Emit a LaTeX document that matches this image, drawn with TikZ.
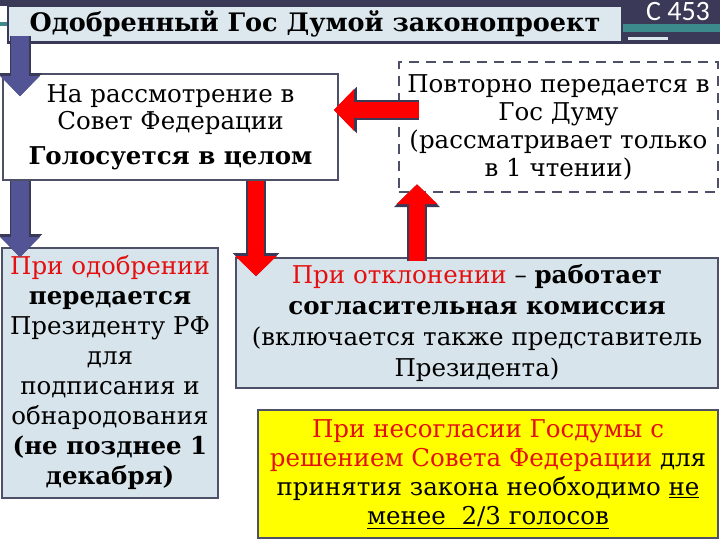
\documentclass[tikz,border=0pt]{standalone}
\usepackage{fontspec}
\setmainfont{DejaVu Serif}
\newfontfamily\slidefont{Carlito}
\usepackage{tikz}
\usetikzlibrary{arrows.meta,positioning,calc}
\usepackage{xcolor}
\definecolor{gdnavy}{RGB}{58,58,88}
\definecolor{gdedge}{RGB}{78,80,104}
\definecolor{gdteal}{RGB}{60,138,140}
\definecolor{gdlight}{RGB}{215,228,235}
\definecolor{gdtitle}{RGB}{220,232,238}
\definecolor{gdblue}{RGB}{82,84,150}
\definecolor{gdred}{RGB}{255,0,0}
\definecolor{gdtext}{RGB}{228,16,16}
\definecolor{gdyellow}{RGB}{255,255,0}
\tikzstyle{stagebox} = [rectangle, draw=gdedge, line width=1.6pt, align=center, inner sep=1pt, font=\fontsize{24.5}{30}\selectfont]
\tikzstyle{bluearrow} = [line width=18pt, color=gdblue, -{Triangle[width=38pt,length=20pt]}, preaction={draw=gdnavy, line width=21pt, -{Triangle[width=43pt,length=23pt]}}]
\tikzstyle{redarrow} = [line width=16pt, color=gdred, -{Triangle[width=40pt,length=20pt]}, preaction={draw=gdnavy, line width=20pt, -{Triangle[width=45pt,length=23pt]}}]
\newcommand{\rd}[1]{\textcolor{gdtext}{#1}}

\begin{document}
\begin{tikzpicture}[x=1pt, y=-1pt]
\useasboundingbox (0,0) rectangle (720,540);
% Slide header
\fill[gdnavy] (0,0) rectangle (720,6);
\fill[gdnavy] (620,0) rectangle (720,44);
\fill[gdteal] (620,24) rectangle (720,32);
\fill[gdtitle] (628,37) rectangle (668,40);
\fill[gdteal] (0,22) rectangle (8,26);
\node (title) [rectangle, draw=gdnavy, fill=gdtitle, line width=2.5pt, minimum width=614pt, minimum height=37pt, font=\fontsize{25.5}{30}\selectfont\bfseries] at (315,24) {Одобренный Гос Думой законопроект};
\node (page) [text=white, font=\slidefont\fontsize{28}{30}\selectfont] at (678,12) {С 453};

% Stages
\node (sovet) [stagebox, fill=white, minimum width=335pt, minimum height=106pt, font=\fontsize{24.5}{27}\selectfont] at (170.5,127) {На рассмотрение в\\Совет Федерации\\[8pt]\textbf{Голосуется в целом}};
\node (povtor) [stagebox, fill=white, dash pattern=on 10pt off 7pt, line width=2.5pt, minimum width=319pt, minimum height=130pt, font=\fontsize{24.5}{28}\selectfont] at (558.5,127) {Повторно передается в\\Гос Думу\\(рассматривает только\\в 1 чтении)};
\node (odobr) [stagebox, fill=gdlight, minimum width=216pt, minimum height=250pt] at (110,373) {\rd{При одобрении}\\\textbf{передается}\\Президенту РФ\\для\\подписания и\\обнародования\\\textbf{(не позднее 1}\\\textbf{декабря)}};
\node (otkl) [stagebox, fill=gdlight, minimum width=482pt, minimum height=130pt, font=\fontsize{24.5}{31}\selectfont] at (477,323) {\rd{При отклонении} -- \textbf{работает}\\\textbf{согласительная комиссия}\\(включается также представитель\\Президента)};
\node (nesogl) [stagebox, fill=gdyellow, minimum width=460pt, minimum height=128pt, font=\fontsize{24.5}{29}\selectfont] at (488,474) {\rd{При несогласии Госдумы с}\\\rd{решением Совета Федерации} для\\принятия закона необходимо \underline{не}\\\underline{менее~~2/3 голосов}};

% Connections
\coordinate (lft) at (20,0);
\coordinate (rdn) at (256,0);
\coordinate (rup) at (417,0);
\coordinate (rlf) at (0,110);
\draw[bluearrow] ([yshift=8pt]title.south -| lft) -- ([yshift=-23pt]sovet.north -| lft);
\draw[bluearrow] (sovet.south -| lft) -- ([yshift=-10pt]odobr.north -| lft);
\draw[redarrow] (sovet.south -| rdn) -- ([yshift=-19pt]otkl.north -| rdn);
\draw[redarrow] ([yshift=-4pt]otkl.north -| rup) -- ([yshift=9pt]povtor.south -| rup);
\draw[redarrow] ([xshift=21pt]povtor.west |- rlf) -- ([xshift=-5pt]sovet.east |- rlf);
\end{tikzpicture}
\end{document}
